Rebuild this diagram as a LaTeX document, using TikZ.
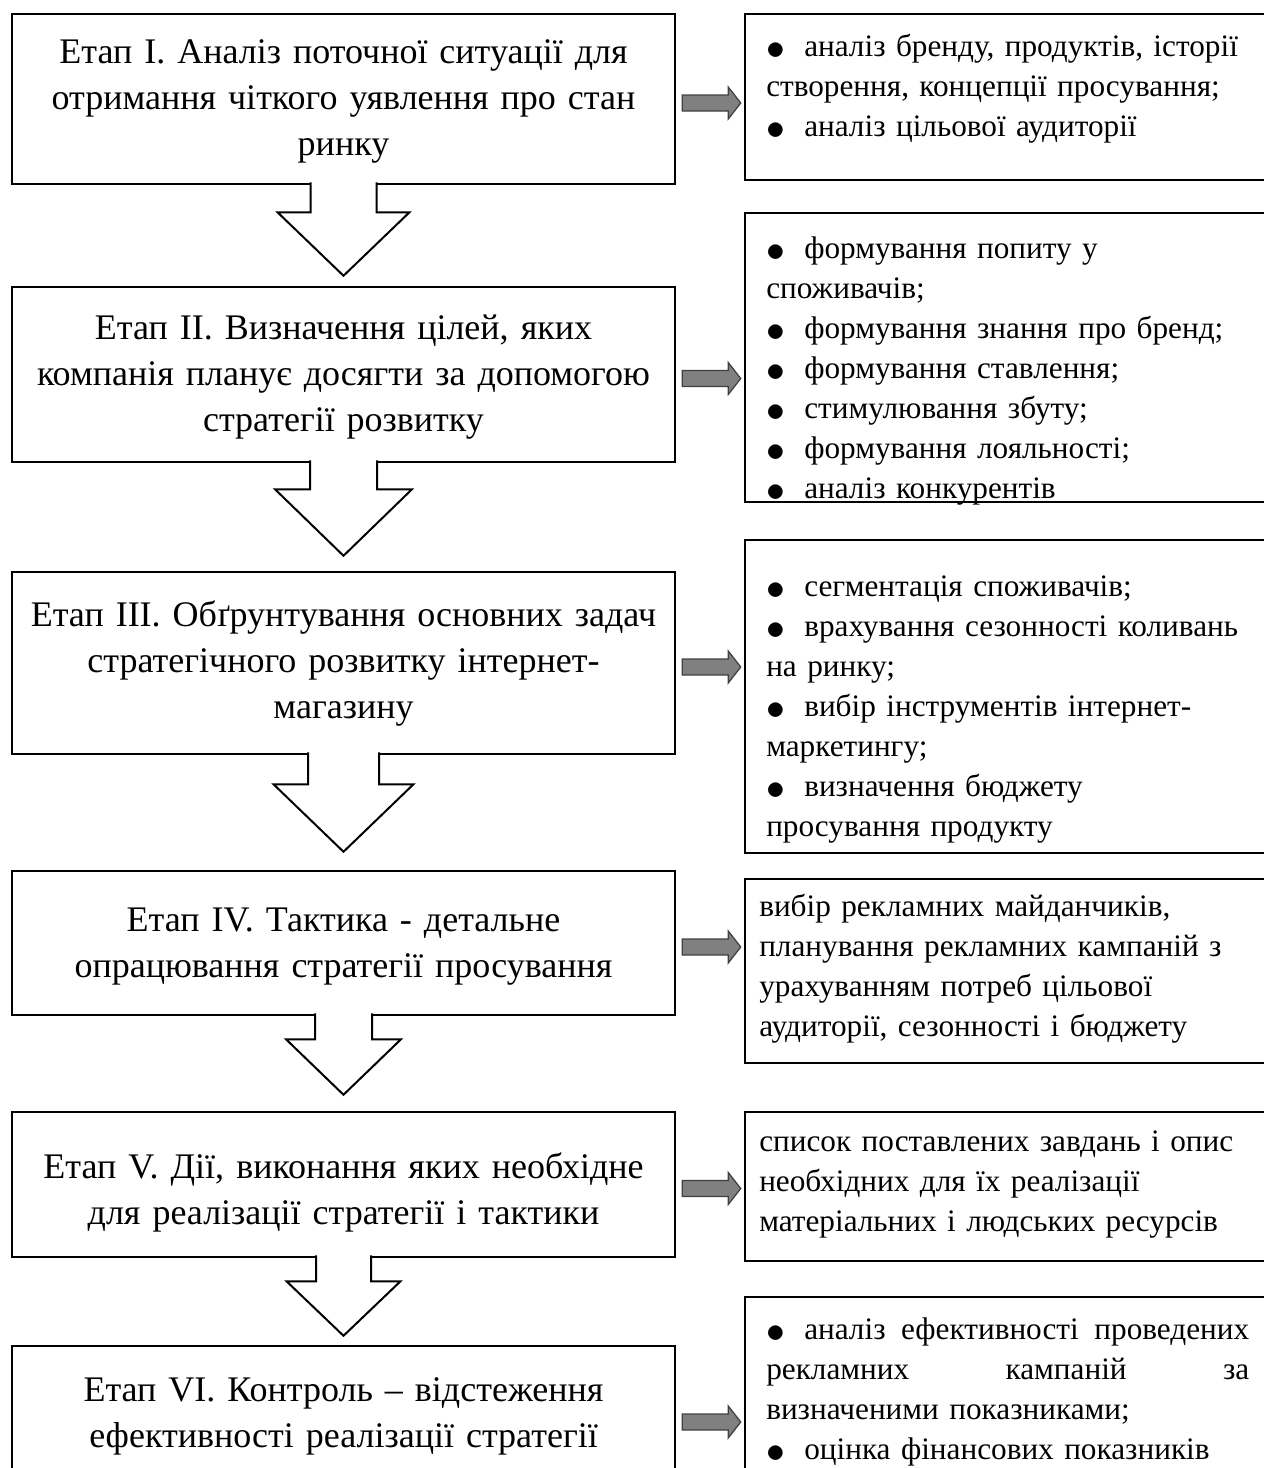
\documentclass[tikz,border=0pt]{standalone}
\usepackage{fontspec}
\setmainfont{Liberation Serif}
\usetikzlibrary{calc}
\tikzstyle{stage} = [draw=black, line width=1pt, minimum width=265.2pt, inner sep=0pt]
\tikzstyle{stagetext} = [anchor=base, inner sep=0pt, text width=256pt, align=center, font={\fontsize{14.4}{18.4}\selectfont}]
\tikzstyle{detail} = [draw=black, line width=1pt, minimum width=210pt, inner sep=0pt]
\tikzstyle{detailtext} = [anchor=base west, inner sep=0pt, text width=197pt, align=left, font={\fontsize{12.5}{16}\selectfont}]
\tikzstyle{pointer} = [draw=black!75, fill=gray, line width=0.5pt]
\tikzstyle{hollow} = [draw=black, fill=white, line width=0.8pt]
\newcommand{\itm}{\makebox[15.2pt][l]{\smash{\raisebox{-0.08em}{\scalebox{1.25}{$\bullet$}}}}}
\newcommand{\fullline}[1]{\makebox[193.2pt][l]{#1}}

\begin{document}
\begin{tikzpicture}[x=0.4pt, y=-0.4pt]
  \useasboundingbox (0,0) rectangle (1264,1468);
  \clip (0,0) rectangle (1264,1468);
  % stages
  \node[stage, minimum height=68pt](s1) at (343.5,99){};
  \node[stage, minimum height=70pt](s2) at (343.5,374.5){};
  \node[stage, minimum height=72.8pt](s3) at (343.5,663){};
  \node[stage, minimum height=57.6pt](s4) at (343.5,943){};
  \node[stage, minimum height=58pt](s5) at (343.5,1184.5){};
  \node[stage, minimum height=57.6pt](s6) at (343.5,1418){};
  \node[stagetext](st1) at ($(s1.north)+(0,51)$){Етап I. Аналіз поточної ситуації для\\отримання чіткого уявлення про стан\\ринку};
  \node[stagetext](st2) at ($(s2.north)+(0,54)$){Етап II. Визначення цілей, яких\\компанія планує досягти за допомогою\\стратегії розвитку};
  \node[stagetext](st3) at ($(s3.north)+(0,56)$){Етап III. Обґрунтування основних задач\\стратегічного розвитку інтернет-\\магазину};
  \node[stagetext](st4) at ($(s4.north)+(0,62)$){Етап IV. Тактика - детальне\\опрацювання стратегії просування};
  \node[stagetext](st5) at ($(s5.north)+(0,68)$){Етап V. Дії, виконання яких необхідне\\для реалізації стратегії і тактики};
  \node[stagetext](st6) at ($(s6.north)+(0,57)$){Етап VI. Контроль – відстеження\\ефективності реалізації стратегії};
  % details
  \node[detail, minimum height=66.4pt](d1) at (1007.5,97){};
  \node[detail, minimum height=115.6pt](d2) at (1007.5,357.5){};
  \node[detail, minimum height=125.2pt](d3) at (1007.5,696.5){};
  \node[detail, minimum height=73.6pt](d4) at (1007.5,971){};
  \node[detail, minimum height=59.6pt](d5) at (1007.5,1186.5){};
  \node[detail, minimum height=77.2pt](d6) at (1007.5,1393.5){};
  \node[detailtext](dt1) at ($(d1.north west)+(22,44)$){\itm аналіз бренду, продуктів, історії\\створення, концепції просування;\\\itm аналіз цільової аудиторії};
  \node[detailtext](dt2) at ($(d2.north west)+(22,47)$){\itm формування попиту у\\споживачів;\\\itm формування знання про бренд;\\\itm формування ставлення;\\\itm стимулювання збуту;\\\itm формування лояльності;\\\itm аналіз конкурентів};
  \node[detailtext](dt3) at ($(d3.north west)+(22,58)$){\itm сегментація споживачів;\\\itm врахування сезонності коливань\\на ринку;\\\itm вибір інструментів інтернет-\\маркетингу;\\\itm визначення бюджету\\просування продукту};
  \node[detailtext](dt4) at ($(d4.north west)+(15,39)$){вибір рекламних майданчиків,\\планування рекламних кампаній з\\урахуванням потреб цільової\\аудиторії, сезонності і бюджету};
  \node[detailtext](dt5) at ($(d5.north west)+(15,41)$){список поставлених завдань і опис\\необхідних для їх реалізації\\матеріальних і людських ресурсів};
  \node[detailtext](dt6) at ($(d6.north west)+(22,44)$){\fullline{\itm аналіз\hfill ефективності\hfill проведених}\\\fullline{рекламних\hfill кампаній\hfill за}\\визначеними показниками;\\\itm оцінка фінансових показників};
  % grey pointers
  \foreach \i in {1,...,6}
    \draw[pointer] ($(s\i.east)+(6,-4)$) -- ($(s\i.east)+(52,-4)$) -- ($(s\i.east)+(52,-12)$) -- ($(s\i.east -| d\i.west)+(-3,4)$) -- ($(s\i.east)+(52,20)$) -- ($(s\i.east)+(52,12)$) -- ($(s\i.east)+(6,12)$) -- cycle;
  % hollow arrows between stages
  \foreach \a/\b/\w/\h/\s/\g in {1/2/33/66/27/10, 2/3/33.5/68.5/26/15, 3/4/35.5/70/29/18, 4/5/28.5/57.5/23/16, 5/6/27.5/57/23/9}
    \draw[hollow] ($(s\a.south)+(-\w,-2.8)$) -- ($(s\a.south)+(-\w,\s)$) -- ($(s\a.south)+(-\h,\s)$) -- ($(s\b.north)+(0,-\g)$) -- ($(s\a.south)+(\h,\s)$) -- ($(s\a.south)+(\w,\s)$) -- ($(s\a.south)+(\w,-2.8)$);
\end{tikzpicture}
\end{document}
